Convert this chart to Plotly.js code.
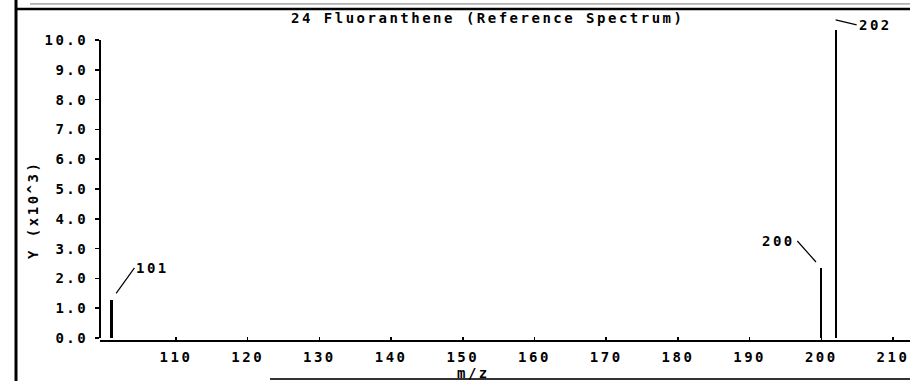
<!DOCTYPE html>
<html>
<head>
<meta charset="utf-8">
<script src="https://cdn.plot.ly/plotly-3.0.1.min.js"></script>
<style>
  html, body { margin: 0; padding: 0; background: #fff; }
  #chart { width: 910px; height: 381px; }
  svg text { letter-spacing: 2.5px; }
</style>
</head>
<body>
<div id="chart"></div>
<script>
// ---- data ----
const chartTitle = "24 Fluoranthene (Reference Spectrum)";
const xTitle = "m/z";
const yTitle = "Y (x10^3)";
const mz = [101, 200, 202];                 // m/z of each peak
const intensity = [1.28, 2.35, 10.34];      // abundance, in thousands
const peakLabels = ["101", "200", "202"];
const xTicks = [110, 120, 130, 140, 150, 160, 170, 180, 190, 200, 210];
const yTicks = [0, 1, 2, 3, 4, 5, 6, 7, 8, 9, 10];

// ---- styling ----
const FONT = { family: "DejaVu Sans Mono, Liberation Mono, monospace", size: 14, color: "#000", weight: "bold" };
// label leader offsets (pixels) per peak
const labelStyle = [
  { ax: 23, ay: -32, xanchor: "left",  standoff: 8, yshift: 0 },
  { ax: -24, ay: -27, xanchor: "right", standoff: 8, yshift: 0 },
  { ax: 21, ay: 5,   xanchor: "left",  standoff: 0, yshift: 10 }
];

const trace = {
  type: "bar",
  x: mz,
  y: intensity,
  width: 0.32,
  marker: { color: "#000", line: { width: 0 } },
  hoverinfo: "x+y"
};

const peakAnnotations = mz.map((m, i) => Object.assign({
  x: m, y: intensity[i], xref: "x", yref: "y",
  text: peakLabels[i],
  showarrow: true, arrowhead: 0, arrowwidth: 1.2, arrowcolor: "#000",
  yanchor: "middle",
  font: FONT
}, labelStyle[i]));

const layout = {
  width: 910, height: 381,
  margin: { l: 100, r: 0, t: 15, b: 41 },
  paper_bgcolor: "#fff", plot_bgcolor: "#fff",
  showlegend: false,
  bargap: 0,
  font: FONT,
  title: { text: chartTitle, font: FONT, x: 0.536, xanchor: "center", y: 0.953, yanchor: "middle" },
  xaxis: {
    range: [99.4, 212.37],
    tickvals: xTicks,
    ticktext: xTicks.map(String),
    ticks: "inside", ticklen: 3, tickwidth: 1.5, tickcolor: "#000",
    showline: true, linecolor: "#000", linewidth: 2,
    showgrid: false, zeroline: false,
    ticklabelstandoff: 3,
    tickfont: FONT,
    fixedrange: true
  },
  yaxis: {
    range: [-0.067, 10.84],
    tickvals: yTicks,
    tickformat: ".1f",
    ticks: "outside", ticklen: 4, tickwidth: 1.5, tickcolor: "#000",
    showline: false,
    showgrid: false, zeroline: false,
    ticklabelstandoff: 4,
    tickfont: FONT,
    fixedrange: true
  },
  annotations: peakAnnotations.concat([
    { xref: "paper", yref: "paper", x: -0.0827, y: 0.40, text: yTitle, textangle: -90,
      showarrow: false, xanchor: "center", yanchor: "middle", font: FONT },
    { xref: "paper", yref: "paper", x: 0.4605, y: -0.1, text: xTitle,
      showarrow: false, xanchor: "center", yanchor: "middle", font: FONT }
  ]),
  shapes: [
    // y axis line from 0 to 10
    { type: "line", xref: "paper", yref: "y", x0: 0, x1: 0, y0: 0, y1: 10, line: { color: "#000", width: 2 } },
    // page frame
    { type: "line", xref: "paper", yref: "paper", x0: -0.1037, x1: -0.1037, y0: -0.13, y1: 1.05, line: { color: "#000", width: 3 } },
    { type: "line", xref: "paper", yref: "paper", x0: -0.1037, x1: 1.01, y0: 1.0185, y1: 1.0185, line: { color: "#000", width: 2.5 } },
    { type: "line", xref: "paper", yref: "paper", x0: -0.0864, x1: 1.01, y0: 1.034, y1: 1.034, line: { color: "#777", width: 1 } },
    { type: "line", xref: "paper", yref: "paper", x0: 0.2099, x1: 1.01, y0: -0.12, y1: -0.12, line: { color: "#333", width: 2 } }
  ]
};

Plotly.newPlot("chart", [trace], layout, { displayModeBar: false, staticPlot: true });
</script>
</body>
</html>
